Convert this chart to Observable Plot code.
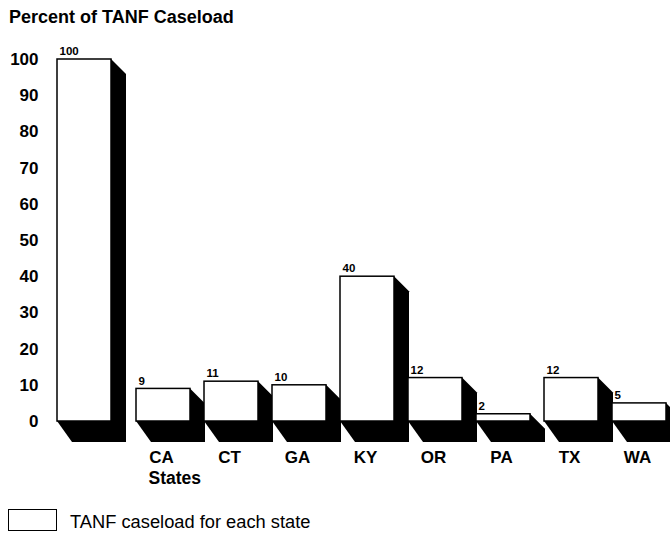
<!DOCTYPE html>
<html>
<head>
<meta charset="utf-8">
<script src="https://cdn.jsdelivr.net/npm/d3@7"></script>
<script src="https://cdn.jsdelivr.net/npm/@observablehq/plot@0.6"></script>
<style>
  body { margin: 0; background: #fff; font-family: "Liberation Sans", Arial, Helvetica, sans-serif; color: #000; }
  #wrap { width: 670px; height: 533px; position: relative; overflow: hidden; background: #fff; }
  #title { position: absolute; left: 9px; top: 7px; font-weight: bold; font-size: 18px; line-height: 20px; white-space: nowrap; }
  #chart { position: absolute; left: 0; top: 40px; }
  #legend { position: absolute; left: 0; top: 500px; width: 670px; height: 33px; }
  #legend .swatch { position: absolute; left: 8px; top: 9px; width: 47px; height: 20px; border: 1.5px solid #000; background: #fff; }
  #legend .ltext { position: absolute; left: 70px; top: 12px; font-size: 18.3px; line-height: 20px; white-space: nowrap; }
</style>
</head>
<body>
<div id="wrap">
  <div id="title"></div>
  <div id="chart"></div>
  <div id="legend"><div class="swatch"></div><div class="ltext"></div></div>
</div>
<script>
// ---- data ----
const title = "Percent of TANF Caseload";
const categories = ["Total", "CA", "CT", "GA", "KY", "OR", "PA", "TX", "WA"];
const xTickLabels = ["", "CA", "CT", "GA", "KY", "OR", "PA", "TX", "WA"];
const values = [100, 9, 11, 10, 40, 12, 2, 12, 5];
const yTicks = [0, 10, 20, 30, 40, 50, 60, 70, 80, 90, 100];
const xLabel = "States";
const legendLabel = "TANF caseload for each state";

// ---- layout ----
const W = 670, H = 460;
const mL = 68, mR = 4, mT = 19, mB = 79;
const padInner = 14 / 68;
const step = (W - mL - mR) / (categories.length - padInner);
const bw = step * (1 - padInner);
const firstOffset = -11;
const depthX = 15, depthTop = 15, depthBottom = 21;
const font = "'Liberation Sans', Arial, Helvetica, sans-serif";

const data = categories.map((c, i) => ({cat: c, value: values[i], label: xTickLabels[i]}));

document.getElementById("title").textContent = title;
document.querySelector("#legend .ltext").textContent = legendLabel;

function shadows(index, scales) {
  const x = scales.x, y = scales.y;
  const bandw = x.bandwidth ? x.bandwidth() : bw;
  const g = d3.create("svg:g");
  const y0 = y(0);
  data.forEach((d, i) => {
    const x0 = x(d.cat) + (i === 0 ? firstOffset : 0);
    const x1 = x0 + bandw;
    const yt = y(d.value);
    const pts = [[x0, y0], [x1, yt], [x1 + depthX, yt + depthTop], [x1 + depthX, y0 + depthBottom], [x0 + depthX, y0 + depthBottom]];
    g.append("polygon").attr("points", pts.map(p => p.join(",")).join(" ")).attr("fill", "#000");
  });
  return g.node();
}

const barOpts = {x: "cat", y: "value", fill: "white", stroke: "black", strokeWidth: 1.5};
const valOpts = {x: "cat", y: "value", text: d => String(d.value), textAnchor: "start", fontSize: 11.5, fontWeight: "bold", dy: -8, fill: "black"};

const chart = Plot.plot({
  width: W, height: H,
  marginLeft: mL, marginRight: mR, marginTop: mT, marginBottom: mB,
  style: {background: "transparent", fontFamily: font, overflow: "visible"},
  x: {type: "band", domain: categories, paddingInner: padInner, paddingOuter: 0, align: 0, axis: null},
  y: {domain: [0, 100], axis: null},
  marks: [
    shadows,
    Plot.barY(data.slice(0, 1), {...barOpts, dx: firstOffset}),
    Plot.barY(data.slice(1), barOpts),
    Plot.text(data.slice(0, 1), {...valOpts, dx: -bw / 2 + 2 + firstOffset}),
    Plot.text(data.slice(1), {...valOpts, dx: -bw / 2 + 2}),
    Plot.text(data.slice(1), {x: "cat", y: () => 0, text: "label", fontSize: 17, fontWeight: "bold", dy: 36, dx: -2, fill: "black"}),
    Plot.text([xLabel], {x: () => categories[1], y: () => 0, text: d => d, textAnchor: "start", fontSize: 17.5, fontWeight: "bold", dy: 56.5, dx: -15, fill: "black"}),
    Plot.text(yTicks, {frameAnchor: "left", y: d => d, text: d => String(d), textAnchor: "end", dx: -30, fontSize: 17, fontWeight: "bold", fill: "black"})
  ]
});
document.getElementById("chart").appendChild(chart);
</script>
</body>
</html>
